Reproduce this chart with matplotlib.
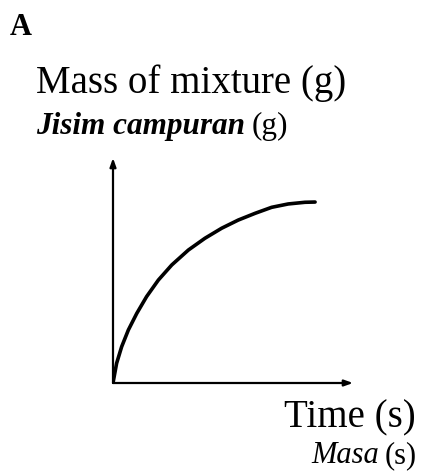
import matplotlib.pyplot as plt

# Mass of mixture against time (arbitrary units)
time_vals = [0, 0.15, 0.36, 0.64, 0.99, 1.4, 1.89, 2.45, 3.14, 3.83,
             4.53, 5.22, 5.92, 6.61, 7.3, 8.0, 8.42]
mass_vals = [0, 0.82, 1.51, 2.21, 2.90, 3.60, 4.29, 4.92, 5.54, 6.03,
             6.45, 6.79, 7.07, 7.32, 7.46, 7.53, 7.54]

W, H = 422, 473
x_max, y_max = 10.0, 225 / 24

plt.rcParams['font.family'] = ['Liberation Serif', 'DejaVu Serif']

fig = plt.figure(figsize=(W / 100, H / 100), dpi=100)
fig.patch.set_facecolor('white')

def fx(px):
    return px / W

def fy(py):
    return 1 - py / H

ax = fig.add_axes([fx(113), fy(383), 240 / W, 225 / H])
ax.set_xlim(0, x_max)
ax.set_ylim(0, y_max)
ax.axis('off')

# axes drawn as arrows
arrow = dict(arrowstyle='-|>,head_length=0.5,head_width=0.18', color='black',
             lw=1.6, shrinkA=0, shrinkB=0)
ax.annotate('', xy=(x_max, 0), xytext=(0, 0), arrowprops=arrow, annotation_clip=False)
ax.annotate('', xy=(0, y_max), xytext=(0, 0), arrowprops=arrow, annotation_clip=False)

ax.plot(time_vals, mass_vals, color='black', lw=2.6,
        solid_capstyle='round', solid_joinstyle='round')

fig.text(fx(10), fy(35), 'A', fontsize=22, fontweight='bold', va='baseline')
fig.text(fx(36), fy(93), 'Mass of mixture (g)', fontsize=28, va='baseline')
fig.text(fx(416), fy(427), 'Time (s)', fontsize=28, ha='right', va='baseline')

# second lines: italic Malay word followed by the upright unit
renderer = fig.canvas.get_renderer()
jisim = fig.text(fx(36), fy(134), 'Jisim campuran', fontsize=22.5,
                 fontstyle='italic', fontweight='bold', va='baseline')
x_end = jisim.get_window_extent(renderer).x1
fig.text(x_end / W + 7 / W, fy(134), '(g)', fontsize=22.5, va='baseline')

unit_s = fig.text(fx(417), fy(463), '(s)', fontsize=22, ha='right', va='baseline')
x_start = unit_s.get_window_extent(renderer).x0
fig.text(x_start / W - 6 / W, fy(463), 'Masa', fontsize=22, fontstyle='italic',
         ha='right', va='baseline')

fig.savefig('out.png', dpi=100, facecolor='white')
